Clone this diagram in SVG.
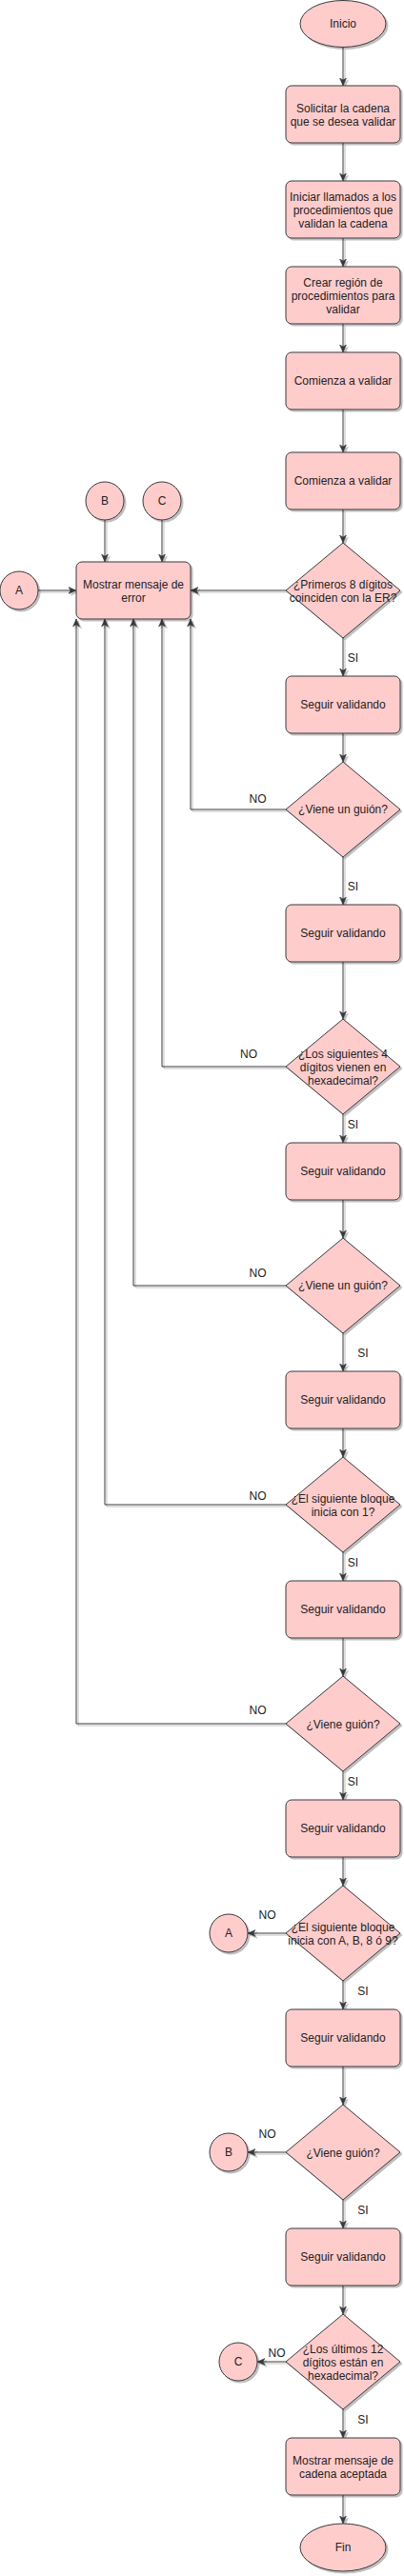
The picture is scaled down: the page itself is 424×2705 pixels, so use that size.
<svg xmlns="http://www.w3.org/2000/svg" width="424" height="2705" viewBox="0 0 424 2705">
<style>
.n{fill:#ffcccc;stroke:#36393d;stroke-width:1;filter:url(#sh)}
.t{font-family:"Liberation Sans",Arial,sans-serif;font-size:12px;fill:#222;text-anchor:middle}
.c path{fill:none;stroke:#36393d;stroke-width:1;marker-end:url(#arr)}
.lbl{font-family:"Liberation Sans",Arial,sans-serif;font-size:12px;fill:#222;text-anchor:middle}
</style>
<defs>
<filter id="sh" x="-10%" y="-10%" width="130%" height="130%">
<feDropShadow dx="2" dy="2" stdDeviation="0.6" flood-color="#000" flood-opacity="0.25"/>
</filter>
<filter id="shc" filterUnits="userSpaceOnUse" x="0" y="0" width="424" height="2705">
<feDropShadow dx="2" dy="2" stdDeviation="0.4" flood-color="#000" flood-opacity="0.25"/>
</filter>
<marker id="arr" markerUnits="userSpaceOnUse" viewBox="0 0 8 8" markerWidth="8" markerHeight="8" refX="8" refY="4" orient="auto">
<path d="M0,0.5 L8,4 L0,7.5 L2,4 Z" fill="#36393d" stroke="#36393d" stroke-width="0.5"/>
</marker>
</defs>
<rect width="424" height="2705" fill="#fff"/>

<g id="connectors" class="c" filter="url(#shc)">
<path d="M360,50 V90"/>
<path d="M360,150 V190"/>
<path d="M360,250 V280"/>
<path d="M360,340 V370"/>
<path d="M360,430 V475"/>
<path d="M360,535 V570"/>
<path d="M300,620 H200"/>
<path d="M40,620 H80"/>
<path d="M110,546 V590"/>
<path d="M170,546 V590"/>
<path d="M360,670 V710"/>
<path d="M360,770 V800"/>
<path d="M300,850 H200 V650"/>
<path d="M360,900 V950"/>
<path d="M360,1010 V1070"/>
<path d="M300,1120 H170 V650"/>
<path d="M360,1170 V1200"/>
<path d="M360,1260 V1300"/>
<path d="M300,1350 H140 V650"/>
<path d="M360,1400 V1440"/>
<path d="M360,1500 V1530"/>
<path d="M300,1580 H110 V650"/>
<path d="M360,1630 V1660"/>
<path d="M360,1720 V1760"/>
<path d="M300,1810 H80 V650"/>
<path d="M360,1860 V1890"/>
<path d="M360,1950 V1980"/>
<path d="M300,2030 H260"/>
<path d="M360,2080 V2110"/>
<path d="M360,2170 V2210"/>
<path d="M300,2260 H260"/>
<path d="M360,2310 V2340"/>
<path d="M360,2400 V2430"/>
<path d="M300,2480 H270"/>
<path d="M360,2530 V2560"/>
<path d="M360,2620 V2650"/>
</g>

<g id="labels">
<text class="lbl" x="370.5" y="695">SI</text>
<text class="lbl" x="270.5" y="843">NO</text>
<text class="lbl" x="370.5" y="935">SI</text>
<text class="lbl" x="261" y="1111">NO</text>
<text class="lbl" x="370.5" y="1185">SI</text>
<text class="lbl" x="270.5" y="1341">NO</text>
<text class="lbl" x="381" y="1425">SI</text>
<text class="lbl" x="270.5" y="1575">NO</text>
<text class="lbl" x="370.5" y="1645">SI</text>
<text class="lbl" x="270.5" y="1800">NO</text>
<text class="lbl" x="370.5" y="1875">SI</text>
<text class="lbl" x="280.5" y="2015">NO</text>
<text class="lbl" x="381" y="2095">SI</text>
<text class="lbl" x="280.5" y="2245">NO</text>
<text class="lbl" x="381" y="2325">SI</text>
<text class="lbl" x="290.5" y="2475">NO</text>
<text class="lbl" x="381" y="2545">SI</text>
</g>

<g id="inicio"><ellipse class="n" cx="360" cy="25" rx="45" ry="24.5"/><text class="t" x="360" y="29">Inicio</text></g>
<g id="solicitar"><rect class="n" x="300" y="90" width="120" height="60" rx="6"/><text class="t" x="360" y="118">Solicitar la cadena</text><text class="t" x="360" y="132">que se desea validar</text></g>
<g id="iniciar"><rect class="n" x="300" y="190" width="120" height="60" rx="6"/><text class="t" x="360" y="211">Iniciar llamados a los</text><text class="t" x="360" y="225">procedimientos que</text><text class="t" x="360" y="239">validan la cadena</text></g>
<g id="crear"><rect class="n" x="300" y="280" width="120" height="60" rx="6"/><text class="t" x="360" y="301">Crear región de</text><text class="t" x="360" y="315">procedimientos para</text><text class="t" x="360" y="329">validar</text></g>
<g id="comienza1"><rect class="n" x="300" y="370" width="120" height="60" rx="6"/><text class="t" x="360" y="404">Comienza a validar</text></g>
<g id="comienza2"><rect class="n" x="300" y="475" width="120" height="60" rx="6"/><text class="t" x="360" y="509">Comienza a validar</text></g>
<g id="d1"><path class="n" d="M360,570 L420,620 L360,670 L300,620 Z"/><text class="t" x="360" y="618">¿Primeros 8 dígitos</text><text class="t" x="360" y="632">coinciden con la ER?</text></g>
<g id="error"><rect class="n" x="80" y="590" width="120" height="60" rx="6"/><text class="t" x="140" y="618">Mostrar mensaje de</text><text class="t" x="140" y="632">error</text></g>
<g id="conA"><circle class="n" cx="20" cy="620" r="20"/><text class="t" x="20" y="624">A</text></g>
<g id="conB"><circle class="n" cx="110" cy="526" r="20"/><text class="t" x="110" y="530">B</text></g>
<g id="conC"><circle class="n" cx="170" cy="526" r="20"/><text class="t" x="170" y="530">C</text></g>
<g id="s1"><rect class="n" x="300" y="710" width="120" height="60" rx="6"/><text class="t" x="360" y="744">Seguir validando</text></g>
<g id="d2"><path class="n" d="M360,800 L420,850 L360,900 L300,850 Z"/><text class="t" x="360" y="854">¿Viene un guión?</text></g>
<g id="s2"><rect class="n" x="300" y="950" width="120" height="60" rx="6"/><text class="t" x="360" y="984">Seguir validando</text></g>
<g id="d3"><path class="n" d="M360,1070 L420,1120 L360,1170 L300,1120 Z"/><text class="t" x="360" y="1111">¿Los siguientes 4</text><text class="t" x="360" y="1125">dígitos vienen en</text><text class="t" x="360" y="1139">hexadecimal?</text></g>
<g id="s3"><rect class="n" x="300" y="1200" width="120" height="60" rx="6"/><text class="t" x="360" y="1234">Seguir validando</text></g>
<g id="d4"><path class="n" d="M360,1300 L420,1350 L360,1400 L300,1350 Z"/><text class="t" x="360" y="1354">¿Viene un guión?</text></g>
<g id="s4"><rect class="n" x="300" y="1440" width="120" height="60" rx="6"/><text class="t" x="360" y="1474">Seguir validando</text></g>
<g id="d5"><path class="n" d="M360,1530 L420,1580 L360,1630 L300,1580 Z"/><text class="t" x="360" y="1578">¿El siguiente bloque</text><text class="t" x="360" y="1592">inicia con 1?</text></g>
<g id="s5"><rect class="n" x="300" y="1660" width="120" height="60" rx="6"/><text class="t" x="360" y="1694">Seguir validando</text></g>
<g id="d6"><path class="n" d="M360,1760 L420,1810 L360,1860 L300,1810 Z"/><text class="t" x="360" y="1815">¿Viene guión?</text></g>
<g id="s6"><rect class="n" x="300" y="1890" width="120" height="60" rx="6"/><text class="t" x="360" y="1924">Seguir validando</text></g>
<g id="d7"><path class="n" d="M360,1980 L420,2030 L360,2080 L300,2030 Z"/><text class="t" x="360" y="2028">¿El siguiente bloque</text><text class="t" x="360" y="2042">inicia con A, B, 8 ó 9?</text></g>
<g id="conA2"><circle class="n" cx="240" cy="2030" r="20"/><text class="t" x="240" y="2034">A</text></g>
<g id="s7"><rect class="n" x="300" y="2110" width="120" height="60" rx="6"/><text class="t" x="360" y="2144">Seguir validando</text></g>
<g id="d8"><path class="n" d="M360,2210 L420,2260 L360,2310 L300,2260 Z"/><text class="t" x="360" y="2265">¿Viene guión?</text></g>
<g id="conB2"><circle class="n" cx="240" cy="2260" r="20"/><text class="t" x="240" y="2264">B</text></g>
<g id="s8"><rect class="n" x="300" y="2340" width="120" height="60" rx="6"/><text class="t" x="360" y="2374">Seguir validando</text></g>
<g id="d9"><path class="n" d="M360,2430 L420,2480 L360,2530 L300,2480 Z"/><text class="t" x="360" y="2471">¿Los últimos 12</text><text class="t" x="360" y="2485">dígitos están en</text><text class="t" x="360" y="2499">hexadecimal?</text></g>
<g id="conC2"><circle class="n" cx="250" cy="2480" r="20"/><text class="t" x="250" y="2484">C</text></g>
<g id="aceptada"><rect class="n" x="300" y="2560" width="120" height="60" rx="6"/><text class="t" x="360" y="2588">Mostrar mensaje de</text><text class="t" x="360" y="2602">cadena aceptada</text></g>
<g id="fin"><ellipse class="n" cx="360" cy="2675" rx="45" ry="25"/><text class="t" x="360" y="2679">Fin</text></g>
</svg>
